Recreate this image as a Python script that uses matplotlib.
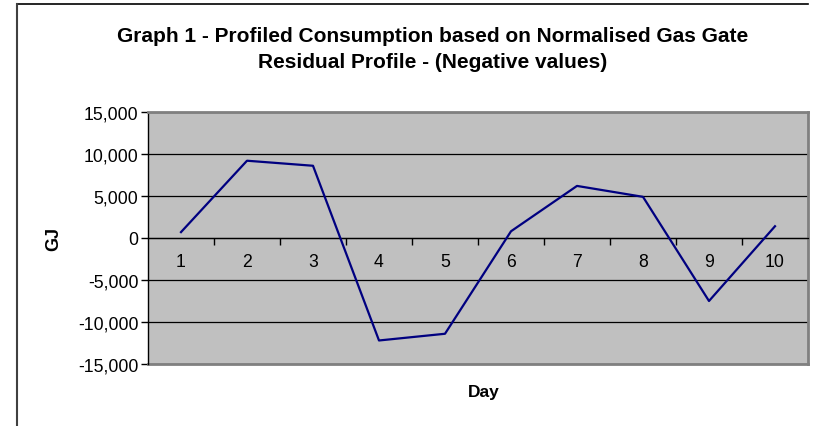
import numpy as np
import matplotlib.pyplot as plt
from matplotlib.lines import Line2D

plt.rcParams['font.family'] = ['Liberation Sans', 'DejaVu Sans']

# Data
days = [1, 2, 3, 4, 5, 6, 7, 8, 9, 10]
gj = [700, 9200, 8600, -12200, -11400, 800, 6200, 4900, -7500, 1400]
y_ticks = [-15000, -10000, -5000, 0, 5000, 10000, 15000]

W, H = 814, 427
fig = plt.figure(figsize=(W / 100, H / 100), dpi=100)

# outer chart border (right/bottom edges are cropped in the original)
fig.add_artist(Line2D([17 / W, 808 / W], [1 - 5 / H, 1 - 5 / H], color='black', lw=1.2))
fig.add_artist(Line2D([17 / W, 17 / W], [1 - 5 / H, 0], color='#404040', lw=1.5))

left, right, top, bottom = 148, 808, 113, 365
ax = fig.add_axes([left / W, 1 - bottom / H, (right - left) / W, (bottom - top) / H])
ax.set_facecolor('#C0C0C0')

x = np.arange(len(days))
ax.plot(x, gj, color='#000080', lw=1.6, zorder=3)

ax.set_xlim(-0.5, len(days) - 0.5)
ax.set_ylim(-15000, 15000)
ax.set_yticks(y_ticks)
ax.set_yticklabels([f'{v:,}' for v in y_ticks], fontsize=12.7)
ax.yaxis.grid(True, color='black', lw=0.9)
ax.set_axisbelow(True)
ax.tick_params(axis='y', direction='out', length=5, width=1, pad=2)

# category x axis crossing at zero
ax.spines['bottom'].set_position(('data', 0))
ax.spines['bottom'].set_color('black')
ax.spines['bottom'].set_linewidth(0.9)
ax.set_xticks(np.arange(1, len(days)) - 0.5)
ax.set_xticklabels([])
ax.tick_params(axis='x', direction='out', length=5, width=1)
for xi, d in zip(x, days):
    ax.text(xi, -2800, str(d), ha='center', va='center', fontsize=12.7)

for s in ['left', 'top', 'right']:
    ax.spines[s].set_color('#808080')
    ax.spines[s].set_linewidth(2)
ax.spines['left'].set_color('black')
ax.spines['left'].set_linewidth(1)

# frame bottom edge of plot area (spine moved to zero)
ax.add_line(Line2D([0, 1], [0, 0], transform=ax.transAxes, color='#808080', lw=2, clip_on=False))

fig.text(433 / W, 1 - 37 / H, 'Graph 1 - Profiled Consumption based on Normalised Gas Gate',
         ha='center', va='center', fontsize=15, fontweight='bold')
fig.text(433 / W, 1 - 63 / H, 'Residual Profile - (Negative values)',
         ha='center', va='center', fontsize=15, fontweight='bold')
fig.text(54 / W, 1 - 239 / H, 'GJ', ha='center', va='center', rotation=90,
         fontsize=13, fontweight='bold')
fig.text(484 / W, 1 - 393 / H, 'Day', ha='center', va='center', fontsize=12.5, fontweight='bold')

fig.savefig('out.png', dpi=100)
